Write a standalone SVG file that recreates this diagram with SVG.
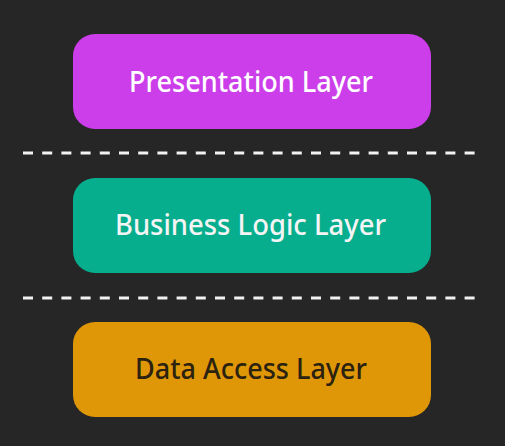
<svg xmlns="http://www.w3.org/2000/svg" width="505" height="446" viewBox="0 0 505 446">
<style>
.box{stroke:none}
.lbl{font-family:"Noto Sans","DejaVu Sans",sans-serif;font-size:28px;font-weight:500;text-anchor:middle}
.sep{stroke:#f2f2f2;stroke-width:3;stroke-dasharray:10 9.2;fill:none}
</style>
<rect width="505" height="446" fill="#262626"/>
<g id="separators">
<line class="sep" x1="23" y1="153" x2="475" y2="153"/>
<line class="sep" x1="23" y1="298" x2="475" y2="298"/>
</g>
<g id="presentation">
<rect class="box" x="73" y="34" width="358" height="95" rx="22" fill="#cb3ee9"/>
<text class="lbl" x="251" y="92" fill="#ffffff" textLength="244" lengthAdjust="spacingAndGlyphs">Presentation Layer</text>
</g>
<g id="business">
<rect class="box" x="73" y="178" width="358" height="95" rx="22" fill="#06ae8e"/>
<text class="lbl" x="250.5" y="235" fill="#f4f4f4" textLength="271" lengthAdjust="spacingAndGlyphs">Business Logic Layer</text>
</g>
<g id="data">
<rect class="box" x="73" y="322" width="358" height="95" rx="22" fill="#e09707"/>
<text class="lbl" x="251" y="379" fill="#2b2210" textLength="232" lengthAdjust="spacingAndGlyphs">Data Access Layer</text>
</g>
</svg>
